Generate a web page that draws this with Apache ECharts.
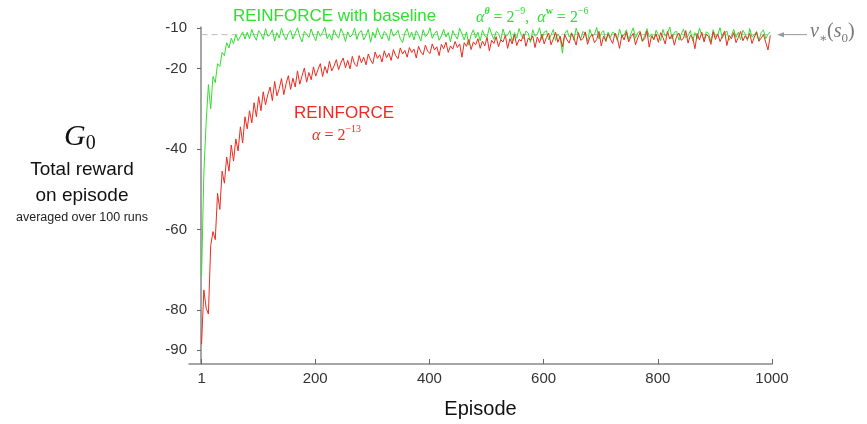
<!DOCTYPE html>
<html><head><meta charset="utf-8">
<script src="https://cdn.jsdelivr.net/npm/echarts@6/dist/echarts.min.js"></script>
<style>html,body{margin:0;padding:0;background:#fff}#c{width:867px;height:424px}</style>
</head><body><div id="c"></div>
<script>
// Sampling grid: every 4th episode
const EPISODE_START = 1;
const EPISODE_STEP = 4;

// REINFORCE with baseline (green)
const baselineReturns = [
-71.5,-46.0,-33.5,-24.0,-30.0,-22.0,-23.5,-18.8,-19.5,-16.0,
-16.8,-13.6,-14.9,-12.5,-13.8,-11.6,-13.1,-12.0,-10.9,-12.7,
-11.0,-12.6,-10.3,-11.9,-13.0,-10.6,-11.4,-12.8,-10.1,-12.0,
-11.6,-10.4,-13.2,-11.1,-12.4,-10.0,-11.8,-12.9,-11.3,-10.5,
-12.7,-11.2,-9.9,-12.1,-13.4,-10.8,-11.5,-12.3,-10.2,-11.9,
-13.1,-10.7,-12.0,-11.0,-9.8,-12.6,-11.4,-13.0,-10.4,-11.7,
-12.5,-10.1,-11.3,-13.3,-10.9,-12.2,-11.6,-10.0,-12.8,-11.1,
-10.6,-12.9,-11.8,-10.3,-13.5,-11.0,-12.4,-9.9,-11.6,-12.7,
-10.8,-11.5,-13.1,-10.2,-12.0,-11.4,-10.5,-12.6,-13.6,-11.2,
-10.1,-12.3,-11.0,-12.9,-10.6,-11.7,-13.2,-10.4,-12.1,-11.5,
-9.9,-12.5,-11.3,-10.7,-13.0,-11.9,-10.3,-12.2,-11.1,-13.4,
-10.6,-11.8,-12.7,-10.0,-11.4,-12.9,-10.9,-14.2,-11.6,-10.4,
-12.4,-11.0,-13.1,-10.5,-11.9,-12.3,-9.8,-11.5,-12.8,-10.8,
-11.3,-13.0,-10.2,-12.1,-11.7,-10.6,-13.3,-11.1,-12.5,-10.1,
-11.8,-12.6,-10.7,-11.2,-13.5,-10.4,-12.0,-11.5,-9.9,-12.8,
-11.0,-10.6,-12.9,-11.7,-10.3,-13.1,-11.4,-12.4,-16.2,-11.3,
-10.5,-12.2,-11.1,-13.0,-10.0,-11.8,-12.6,-10.8,-11.4,-13.2,
-10.3,-12.0,-11.6,-9.8,-12.7,-11.2,-10.6,-13.4,-11.0,-12.3,
-10.9,-11.5,-13.0,-10.2,-12.1,-11.7,-10.4,-12.8,-11.3,-9.9,
-12.5,-11.1,-10.7,-13.3,-11.8,-10.1,-12.2,-11.4,-12.9,-10.5,
-11.6,-13.1,-10.3,-12.0,-11.2,-9.7,-12.7,-11.0,-10.8,-13.0,
-11.5,-10.2,-12.4,-11.9,-10.6,-13.2,-11.1,-12.6,-10.0,-11.7,
-12.8,-10.9,-11.3,-13.4,-10.4,-12.1,-11.6,-9.9,-12.5,-11.2,
-10.7,-13.0,-11.8,-10.3,-12.3,-11.0,-12.9,-10.5,-11.4,-13.1,
-10.1,-12.2,-11.7,-10.8,-13.3,-11.1,-10.4,-12.6,-11.5,-10.9
];

// REINFORCE (red)
const reinforceReturns = [
-88.5,-75.0,-79.5,-81.0,-64.0,-60.5,-62.5,-51.0,-55.0,-45.5,
-48.5,-42.0,-45.5,-39.0,-43.0,-37.5,-40.5,-34.5,-38.5,-32.0,
-35.0,-30.5,-33.5,-28.5,-32.0,-27.0,-30.5,-25.8,-29.0,-26.5,
-24.6,-28.0,-23.2,-26.8,-25.0,-22.5,-26.5,-23.8,-21.8,-25.2,
-22.4,-24.6,-20.6,-23.9,-21.8,-19.9,-23.4,-21.0,-22.8,-19.6,
-21.9,-20.2,-18.8,-22.0,-19.5,-21.2,-18.2,-20.6,-19.4,-17.8,
-20.3,-18.6,-17.4,-19.8,-18.0,-20.1,-17.0,-18.9,-19.5,-16.8,
-18.6,-17.2,-19.1,-16.4,-17.9,-18.8,-15.9,-17.5,-16.6,-18.4,
-15.6,-17.3,-16.2,-18.0,-15.3,-16.8,-17.6,-14.9,-16.4,-15.5,
-17.2,-14.8,-16.0,-15.2,-17.4,-14.5,-15.9,-16.6,-14.2,-15.7,
-16.3,-13.9,-15.4,-14.6,-16.8,-14.0,-15.1,-13.5,-16.0,-14.4,
-15.2,-13.3,-14.8,-13.9,-17.2,-13.6,-14.5,-12.8,-15.3,-13.4,
-14.1,-12.6,-15.0,-13.2,-14.4,-12.3,-15.6,-13.0,-13.8,-12.1,
-14.6,-12.9,-13.4,-11.8,-15.0,-12.6,-13.9,-11.6,-14.3,-12.8,
-13.2,-11.4,-14.5,-12.5,-13.0,-11.9,-14.8,-12.2,-13.6,-11.5,
-13.9,-12.3,-11.2,-14.1,-12.7,-11.0,-13.5,-12.0,-14.6,-11.6,
-12.9,-13.7,-11.3,-12.4,-14.2,-11.1,-13.0,-12.6,-10.9,-14.0,
-12.2,-11.5,-13.6,-12.8,-10.8,-14.4,-12.0,-13.1,-11.4,-12.7,
-13.8,-11.2,-12.5,-15.0,-11.7,-12.9,-10.9,-13.4,-12.1,-11.3,
-14.1,-12.4,-11.0,-13.2,-12.6,-10.7,-14.7,-11.9,-12.8,-11.4,
-13.5,-11.1,-12.3,-13.9,-10.8,-12.7,-11.6,-14.2,-12.0,-11.2,
-13.0,-12.5,-10.6,-13.7,-11.8,-12.2,-15.1,-11.3,-12.9,-11.0,
-13.4,-11.5,-12.1,-14.0,-10.9,-12.8,-11.4,-13.3,-12.0,-10.7,
-14.3,-11.8,-12.6,-11.1,-13.6,-12.3,-10.8,-13.1,-11.9,-12.7,
-11.3,-13.8,-12.2,-11.0,-13.2,-12.5,-11.6,-13.5,-15.4,-11.8
];

const vStar = -11.6;           // v*(s0)
const xTicks = [1, 200, 400, 600, 800, 1000];
const yTicks = [-10, -20, -40, -60, -80, -90];

const episodes = baselineReturns.map((_, i) => EPISODE_START + EPISODE_STEP * i);
const greenData = episodes.map((e, i) => [e, baselineReturns[i]]);
const redData = episodes.map((e, i) => [e, reinforceReturns[i]]);

const SANS = '"Liberation Sans", Arial, Helvetica, sans-serif';
const SERIF = '"Liberation Serif", "DejaVu Serif", serif';
const GREEN = '#2fe02f';
const RED = '#ee2b1e';

const chart = echarts.init(document.getElementById('c'), null, {renderer: 'canvas'});
chart.setOption({
  animation: false,
  backgroundColor: '#fff',
  grid: {left: 189, right: 95, top: 27, bottom: 56, containLabel: false},
  xAxis: {
    type: 'value', min: -21, max: 1000,
    axisLine: {show: true, lineStyle: {color: '#888', width: 1.5}},
    axisTick: {show: true, inside: true, length: 5, customValues: xTicks, lineStyle: {color: '#666', width: 1}},
    axisLabel: {customValues: xTicks, formatter: v => String(v), fontFamily: SANS, fontSize: 15, color: '#333', margin: 7},
    splitLine: {show: false},
    name: 'Episode', nameLocation: 'middle', nameGap: 35,
    nameTextStyle: {fontFamily: SANS, fontSize: 20, color: '#111'}
  },
  yAxis: {
    type: 'value', min: -93.4, max: -9.7,
    axisLine: {show: true, lineStyle: {color: '#888', width: 1.5}},
    axisTick: {show: true, inside: false, length: 4, customValues: yTicks, lineStyle: {color: '#666', width: 1}},
    axisLabel: {customValues: yTicks, formatter: v => String(v), fontFamily: SANS, fontSize: 15, color: '#333', margin: 2},
    splitLine: {show: false}
  },
  series: [
    {type: 'line', data: [[xTicks[0], vStar], [xTicks[xTicks.length - 1], vStar]], symbol: 'none', silent: true,
     lineStyle: {color: '#bbb', width: 1, type: [6, 4]}, z: 1},
    {type: 'line', data: greenData, symbol: 'none', lineStyle: {color: GREEN, width: 1}, z: 2},
    {type: 'line', data: redData, symbol: 'none', lineStyle: {color: RED, width: 1}, z: 3}
  ]
});

const yv = chart.convertToPixel({gridIndex: 0}, [1000, vStar])[1];
const xEnd = chart.convertToPixel({gridIndex: 0}, [1000, vStar])[0];

chart.setOption({
  graphic: [
    {type: 'text', left: 233, top: 8, style: {text: 'REINFORCE with baseline', font: '17px ' + SANS, fill: GREEN}},
    {type: 'text', left: 476, top: 6, style: {
      text: '{i|α}{sb|θ}{n| = 2}{s|−9}{n|,  }{i|α}{sw|w}{n| = 2}{s|−6}',
      rich: {
        i: {fontFamily: SERIF, fontStyle: 'italic', fontSize: 16, fill: GREEN, verticalAlign: 'bottom', lineHeight: 20},
        n: {fontFamily: SERIF, fontSize: 16, fill: GREEN, verticalAlign: 'bottom', lineHeight: 20},
        s: {fontFamily: SERIF, fontSize: 10, fill: GREEN, verticalAlign: 'top', lineHeight: 12},
        sb: {fontFamily: SERIF, fontStyle: 'italic', fontWeight: 'bold', fontSize: 10, fill: GREEN, verticalAlign: 'top', lineHeight: 12},
        sw: {fontFamily: SERIF, fontWeight: 'bold', fontSize: 10, fill: GREEN, verticalAlign: 'top', lineHeight: 12}
      }}},
    {type: 'text', left: 294, top: 105, style: {text: 'REINFORCE', font: '17px ' + SANS, fill: RED}},
    {type: 'text', left: 312, top: 124, style: {
      text: '{i|α}{n| = 2}{s|−13}',
      rich: {
        i: {fontFamily: SERIF, fontStyle: 'italic', fontSize: 16, fill: RED, verticalAlign: 'bottom', lineHeight: 20},
        n: {fontFamily: SERIF, fontSize: 16, fill: RED, verticalAlign: 'bottom', lineHeight: 20},
        s: {fontFamily: SERIF, fontSize: 10, fill: RED, verticalAlign: 'top', lineHeight: 12}
      }}},
    // arrow to v*(s0)
    {type: 'line', shape: {x1: xEnd + 35, y1: yv, x2: xEnd + 9, y2: yv}, style: {stroke: '#999', lineWidth: 1}},
    {type: 'polygon', shape: {points: [[xEnd + 5, yv], [xEnd + 12, yv - 2.5], [xEnd + 12, yv + 2.5]]}, style: {fill: '#999'}},
    {type: 'text', left: xEnd + 38, top: yv - 13, style: {
      text: '{i|v}{sub|∗}{n|(}{i|s}{sub0|0}{n|)}',
      rich: {
        i: {fontFamily: SERIF, fontStyle: 'italic', fontSize: 20, fill: '#777', verticalAlign: 'middle', lineHeight: 26},
        n: {fontFamily: SERIF, fontSize: 20, fill: '#777', verticalAlign: 'middle', lineHeight: 26},
        sub: {fontFamily: SERIF, fontSize: 12, fill: '#777', verticalAlign: 'bottom', lineHeight: 14},
        sub0: {fontFamily: SERIF, fontSize: 13, fill: '#777', verticalAlign: 'bottom', lineHeight: 14}
      }}},
    // y-axis title block
    {type: 'text', left: 64, top: 122, style: {
      text: '{g|G}{z|0}',
      rich: {
        g: {fontFamily: SERIF, fontStyle: 'italic', fontSize: 30, fill: '#111', verticalAlign: 'middle', lineHeight: 34},
        z: {fontFamily: SERIF, fontSize: 20, fill: '#111', verticalAlign: 'bottom', lineHeight: 20}
      }}},
    {type: 'text', x: 82, y: 170, style: {text: 'Total reward', font: '19px ' + SANS, fill: '#111', align: 'center', verticalAlign: 'middle'}},
    {type: 'text', x: 82, y: 196, style: {text: 'on episode', font: '19px ' + SANS, fill: '#111', align: 'center', verticalAlign: 'middle'}},
    {type: 'text', x: 82, y: 218, style: {text: 'averaged over 100 runs', font: '12.5px ' + SANS, fill: '#222', align: 'center', verticalAlign: 'middle'}}
  ]
});
</script></body></html>
